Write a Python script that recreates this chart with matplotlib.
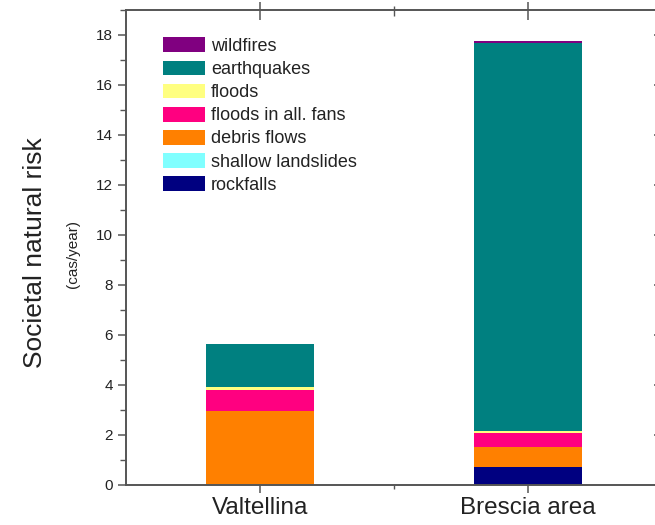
import matplotlib
matplotlib.use("Agg")
import matplotlib.pyplot as plt
from matplotlib.ticker import MultipleLocator, FixedLocator
import numpy as np

plt.rcParams['font.family'] = ['Liberation Sans', 'DejaVu Sans']

regions = ["Valtellina", "Brescia area"]
hazards = ["rockfalls", "shallow landslides", "debris flows", "floods in all. fans",
           "floods", "earthquakes", "wildfires"]
colors = ["#000080", "#80FFFF", "#FF8000", "#FF0080", "#FFFF80", "#008080", "#800080"]

rockfalls = [0.0, 0.72]
shallow_landslides = [0.0, 0.0]
debris_flows = [2.95, 0.80]
floods_fans = [0.85, 0.55]
floods = [0.12, 0.10]
earthquakes = [1.73, 15.50]
wildfires = [0.0, 0.07]

series = [rockfalls, shallow_landslides, debris_flows, floods_fans,
          floods, earthquakes, wildfires]

fig = plt.figure(figsize=(6.55, 5.25), dpi=100)
ax = fig.add_axes([0.1924, 0.0762, 0.8183, 0.905])

x = np.arange(1, len(regions) + 1)
bottom = np.zeros(len(regions))
handles = []
for name, vals, c in zip(hazards, series, colors):
    vals = np.array(vals)
    h = ax.bar(x, vals, width=0.405, bottom=bottom, color=c, label=name,
               linewidth=0, zorder=2)
    handles.append(h)
    bottom += vals

ax.set_xlim(0.5, 2.5)
ax.set_ylim(0, 19)
ax.set_xticks(x)
ax.set_xticklabels(regions, fontsize=17.5, color="#222222")
ax.xaxis.set_minor_locator(FixedLocator([1.5]))
ax.yaxis.set_major_locator(MultipleLocator(2))
ax.yaxis.set_minor_locator(MultipleLocator(1))
ax.set_yticks(np.arange(0, 19, 2))

spine_c = "#555555"
for s in ax.spines.values():
    s.set_color(spine_c)
    s.set_linewidth(1.4)
    s.set_zorder(3)

ax.tick_params(axis='both', which='both', colors=spine_c, labelcolor="#222222",
               top=True, right=True)
ax.tick_params(axis='y', which='major', labelsize=11, length=6, width=1.1, direction='out')
ax.tick_params(axis='y', which='minor', length=4, width=1.0, direction='out')
ax.tick_params(axis='x', which='major', length=6, width=1.1, direction='out', pad=3)
ax.tick_params(axis='x', which='minor', length=3, width=1.0, direction='out')

# mirrored ticks on the top and right spines point inward
sec_x = ax.secondary_xaxis('top')
sec_x.set_xticks(x)
sec_x.set_xticklabels([])
sec_x.xaxis.set_minor_locator(FixedLocator([1.5]))
sec_x.tick_params(which='major', direction='in', length=7, width=1.1, colors=spine_c)
sec_x.tick_params(which='minor', direction='in', length=4, width=1.0, colors=spine_c)
sec_x.spines['top'].set_visible(False)

sec_y = ax.secondary_yaxis('right')
sec_y.set_yticks(np.arange(0, 19, 2))
sec_y.set_yticklabels([])
sec_y.yaxis.set_minor_locator(MultipleLocator(1))
sec_y.tick_params(which='major', direction='in', length=6, width=1.1, colors=spine_c)
sec_y.tick_params(which='minor', direction='in', length=3, width=1.0, colors=spine_c)
sec_y.spines['right'].set_visible(False)

fig.text(0.054, 0.519, "Societal natural risk", rotation=90, ha='center', va='center',
         fontsize=19, color="#222222")
fig.text(0.112, 0.517, "(cas/year)", rotation=90, ha='center', va='center',
         fontsize=11, color="#222222")

leg = ax.legend(handles[::-1], hazards[::-1], loc='upper left',
                bbox_to_anchor=(0.069, 0.942), frameon=False, fontsize=13,
                handlelength=2.33, handleheight=0.89, handletextpad=0.33,
                labelspacing=0.3, borderpad=0, borderaxespad=0)
for t in leg.get_texts():
    t.set_color("#222222")

fig.savefig("out.png", dpi=100)
